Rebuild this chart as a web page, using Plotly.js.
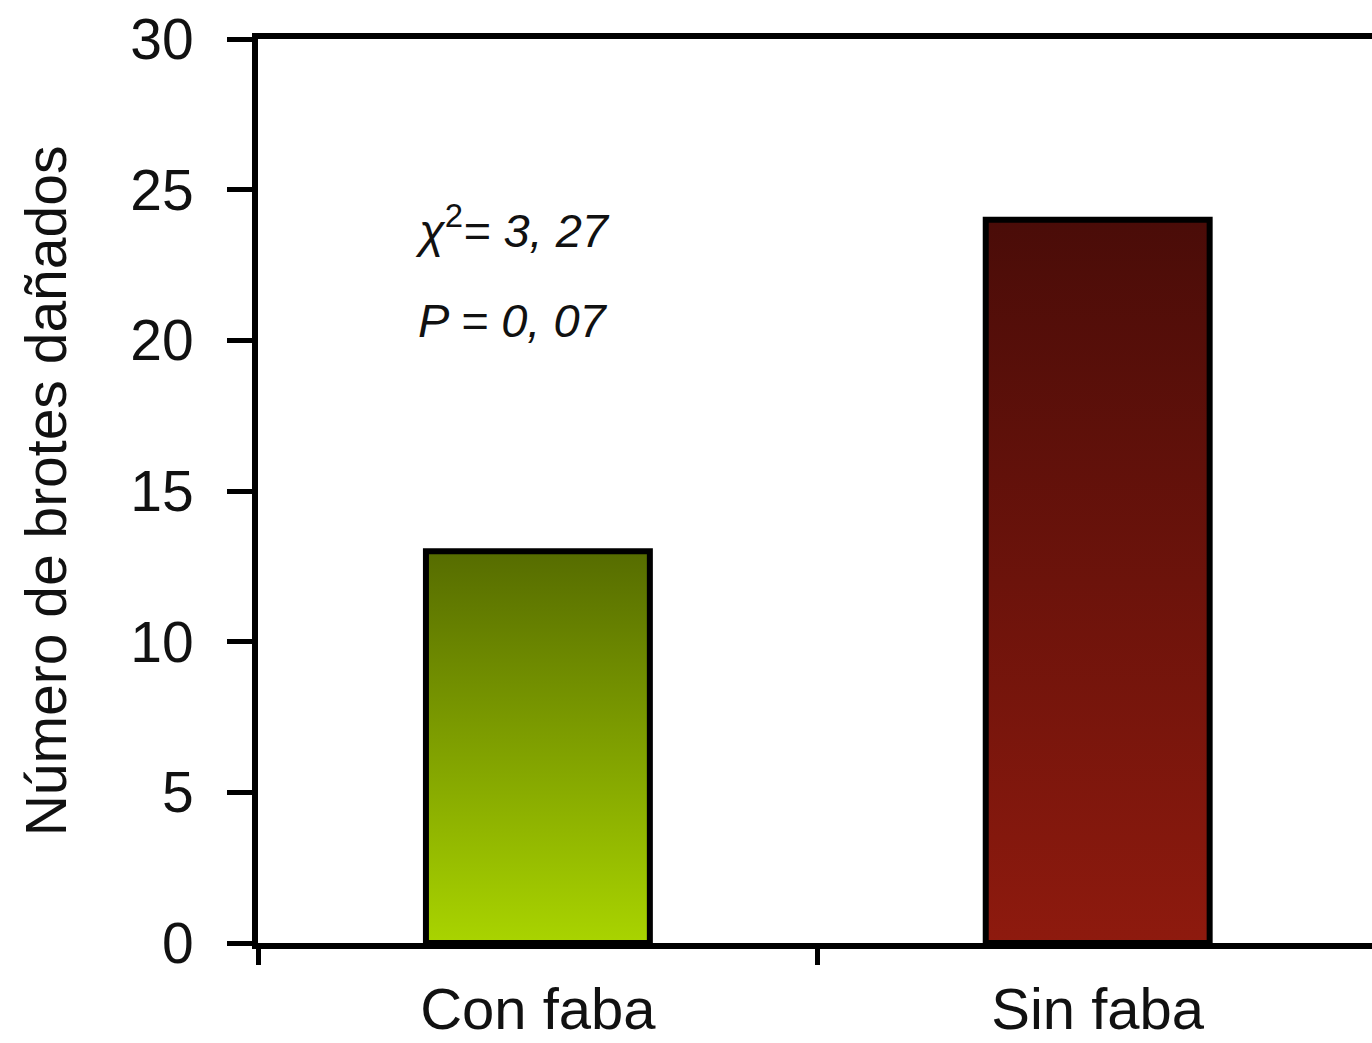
<!DOCTYPE html>
<html>
<head>
<meta charset="utf-8">
<script src="https://cdn.plot.ly/plotly-3.0.1.min.js"></script>
<style>html,body{margin:0;padding:0;background:#fff;}#chart{width:1372px;height:1043px;}</style>
</head>
<body>
<div id="chart"></div>
<script>
// Data
const categories = ['Con faba', 'Sin faba'];
const damagedShoots = [13, 24];
const topColors = ['#566c00', '#4a0c08'];
const bottomColors = ['#a9d400', '#8e1a0e'];
const statLines = ['<i>χ</i><sup>2</sup><i>= 3, 27</i>', '<i>P = 0, 07</i>'];
const statY = [23.75, 20.65];

const halfWidth = 0.2;
const traces = categories.map((c, i) => {
  const xc = i;
  return {
    type: 'scatter',
    mode: 'lines',
    x: [xc - halfWidth, xc + halfWidth, xc + halfWidth, xc - halfWidth, xc - halfWidth],
    y: [0, 0, damagedShoots[i], damagedShoots[i], 0],
    fill: 'toself',
    fillgradient: {
      type: 'vertical',
      start: 0,
      stop: damagedShoots[i],
      colorscale: [[0, bottomColors[i]], [1, topColors[i]]]
    },
    line: {color: '#000', width: 6},
    name: c,
    hoverinfo: 'skip',
    showlegend: false
  };
});

const font = {family: '"Liberation Sans", Arial, sans-serif', color: '#111'};

const layout = {
  width: 1372,
  height: 1043,
  margin: {l: 258, r: 0, t: 39, b: 100},
  paper_bgcolor: '#fff',
  plot_bgcolor: '#fff',
  showlegend: false,
  xaxis: {
    range: [-0.5, 1.49],
    tickmode: 'array',
    tickvals: [0, 1],
    ticktext: categories,
    ticks: '',
    ticklabelstandoff: 10,
    showgrid: false,
    zeroline: false,
    showline: true,
    linecolor: '#000',
    linewidth: 6,
    mirror: true,
    tickfont: Object.assign({size: 58}, font),
    minor: {
      tickmode: 'array',
      tickvals: [-0.5, 0.5, 1.5],
      ticks: 'outside',
      ticklen: 16,
      tickwidth: 5,
      tickcolor: '#000',
      showgrid: false
    },
    fixedrange: true
  },
  yaxis: {
    range: [0, 30],
    tickmode: 'linear',
    tick0: 0,
    dtick: 5,
    ticks: 'outside',
    ticklen: 25,
    tickwidth: 5,
    tickcolor: '#000',
    showgrid: false,
    zeroline: false,
    showline: true,
    linecolor: '#000',
    linewidth: 6,
    ticklabelstandoff: 22,
    tickfont: Object.assign({size: 57}, font),
    title: {text: 'Número de brotes dañados', font: Object.assign({size: 57}, font), standoff: 47},
    fixedrange: true
  },
  annotations: statLines.map((t, i) => ({
    x: -0.045, y: statY[i], xref: 'x', yref: 'y',
    text: t, showarrow: false,
    font: Object.assign({size: 47}, font)
  }))
};

Plotly.newPlot('chart', traces, layout, {displayModeBar: false, staticPlot: true});
</script>
</body>
</html>
